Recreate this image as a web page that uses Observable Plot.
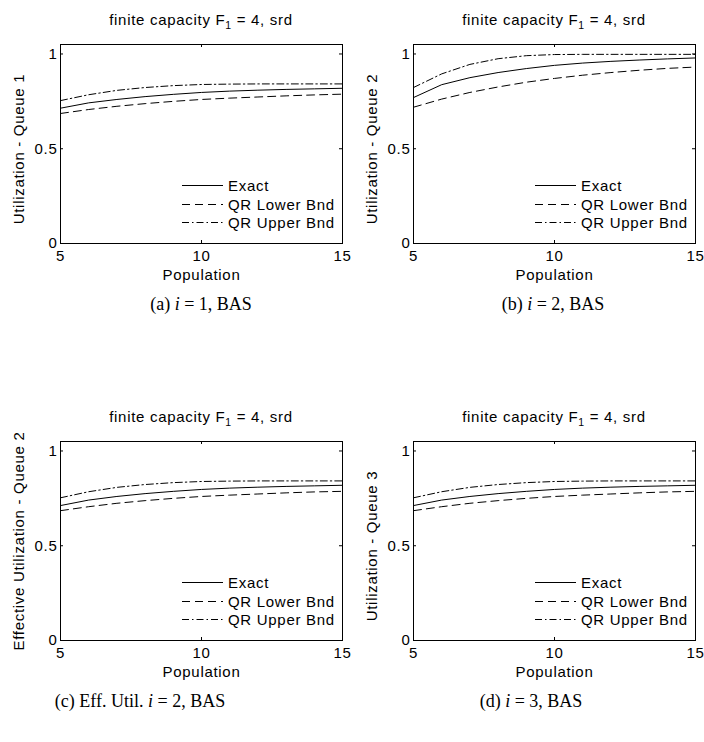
<!DOCTYPE html>
<html><head><meta charset="utf-8">
<script src="https://cdn.jsdelivr.net/npm/d3@7"></script>
<script src="https://cdn.jsdelivr.net/npm/@observablehq/plot@0.6"></script>
<style>
body{margin:0;background:#fff;}
#root{position:relative;width:704px;height:742px;background:#fff;font-family:"Liberation Sans",Arial,sans-serif;color:#000;overflow:hidden;}
.panel{position:absolute;width:352px;height:340px;}
.panel > svg{position:absolute;left:0;top:0;}
.panel svg text{letter-spacing:0.7px;}
.ptitle{position:absolute;left:60px;width:282px;text-align:center;font-size:15px;line-height:17px;white-space:nowrap;letter-spacing:0.7px;}
.ptitle sub{font-size:10.5px;line-height:0;vertical-align:-4px;}
.lrow{position:absolute;left:182px;height:18px;display:flex;align-items:center;font-size:15px;white-space:nowrap;letter-spacing:0.7px;}
.lrow svg{position:static;margin-right:5px;}
.caption{position:absolute;font-family:"Liberation Serif",serif;font-size:18px;line-height:20px;white-space:nowrap;text-align:center;width:300px;}
</style></head>
<body><div id="root"></div>
<script>
// ---- data ----
const population = [5, 6, 7, 8, 9, 10, 11, 12, 13, 14, 15];
const xTicks = [5, 10, 15];
const yTicks = [0, 0.5, 1];
const seriesNames = ["Exact", "QR Lower Bnd", "QR Upper Bnd"];
const panelTitle = "finite capacity F<sub>1</sub> = 4, srd";
const xLabel = "Population";

// (a) Queue 1
const exactQ1 = [0.714, 0.742, 0.760, 0.775, 0.787, 0.797, 0.804, 0.809, 0.813, 0.816, 0.819];
const lowerQ1 = [0.686, 0.707, 0.724, 0.738, 0.750, 0.760, 0.767, 0.773, 0.779, 0.784, 0.788];
const upperQ1 = [0.754, 0.785, 0.808, 0.823, 0.833, 0.839, 0.841, 0.842, 0.842, 0.842, 0.842];
// (b) Queue 2
const exactQ2 = [0.770, 0.838, 0.875, 0.902, 0.923, 0.940, 0.952, 0.961, 0.968, 0.974, 0.979];
const lowerQ2 = [0.719, 0.762, 0.797, 0.826, 0.851, 0.871, 0.888, 0.902, 0.914, 0.924, 0.931];
const upperQ2 = [0.823, 0.895, 0.945, 0.975, 0.991, 0.997, 0.998, 0.998, 0.998, 0.998, 0.998];
// (c) Effective utilization Queue 2
const exactEffQ2 = [0.712, 0.741, 0.760, 0.775, 0.787, 0.797, 0.804, 0.809, 0.813, 0.816, 0.819];
const lowerEffQ2 = [0.685, 0.706, 0.724, 0.738, 0.750, 0.760, 0.767, 0.773, 0.779, 0.784, 0.787];
const upperEffQ2 = [0.753, 0.785, 0.808, 0.823, 0.833, 0.839, 0.841, 0.842, 0.842, 0.842, 0.842];
// (d) Queue 3
const exactQ3 = [0.712, 0.741, 0.760, 0.775, 0.787, 0.797, 0.804, 0.809, 0.813, 0.816, 0.819];
const lowerQ3 = [0.685, 0.706, 0.724, 0.738, 0.750, 0.760, 0.767, 0.773, 0.779, 0.784, 0.787];
const upperQ3 = [0.753, 0.785, 0.808, 0.823, 0.833, 0.839, 0.841, 0.842, 0.842, 0.842, 0.842];

const panels = [
  {left: 0, top: 0, ylabel: "Utilization - Queue 1", labelDy: 5, capCenter: 201, caption: "(a) <i>i</i> = 1, BAS", series: [exactQ1, lowerQ1, upperQ1]},
  {left: 353, top: 0, ylabel: "Utilization - Queue 2", labelDy: 5, capCenter: 200, caption: "(b) <i>i</i> = 2, BAS", series: [exactQ2, lowerQ2, upperQ2]},
  {left: 0, top: 397, ylabel: "Effective Utilization - Queue 2", labelDy: 0, capCenter: 140, caption: "(c) Eff. Util. <i>i</i> = 2, BAS", series: [exactEffQ2, lowerEffQ2, upperEffQ2]},
  {left: 353, top: 397, ylabel: "Utilization - Queue 3", labelDy: 5, capCenter: 178, caption: "(d) <i>i</i> = 3, BAS", series: [exactQ3, lowerQ3, upperQ3]}
];

// ---- styles ----
const dashes = [null, "8,5", "7,3,1.5,3"];
const W = 352, H = 290, ML = 60, MR = 10, MT = 44, MB = 47;
const FW = W - ML - MR, FH = H - MT - MB;
const TICK = 3;

const root = document.getElementById("root");

for (const p of panels) {
  const div = document.createElement("div");
  div.className = "panel";
  div.style.left = p.left + "px";
  div.style.top = p.top + "px";

  const lineMarks = p.series.map((arr, k) =>
    Plot.line(population.map((n, i) => ({N: n, v: arr[i]})), {
      x: "N", y: "v", stroke: "black", strokeWidth: 1,
      strokeDasharray: dashes[k] ?? undefined
    })
  );

  const chart = Plot.plot({
    width: W, height: H,
    marginLeft: ML, marginRight: MR, marginTop: MT, marginBottom: MB,
    x: {domain: [5, 15]},
    y: {domain: [0, 1.05]},
    style: {fontFamily: "Liberation Sans, Arial, sans-serif", fontSize: "15px", color: "black", background: "transparent", overflow: "visible"},
    marks: [
      ...lineMarks,
      Plot.frame({stroke: "black"}),
      Plot.ruleX(xTicks, {x: d => d, insetTop: FH - TICK, stroke: "black"}),
      Plot.ruleX(xTicks, {x: d => d, insetBottom: FH - TICK, stroke: "black"}),
      Plot.ruleY(yTicks, {y: d => d, insetRight: FW - TICK, stroke: "black"}),
      Plot.ruleY(yTicks, {y: d => d, insetLeft: FW - TICK, stroke: "black"}),
      Plot.axisX(xTicks, {anchor: "bottom", tickSize: 0, tickPadding: 7, label: null, tickFormat: d => String(d)}),
      Plot.axisY(yTicks, {anchor: "left", tickSize: 0, tickPadding: 3, label: null, tickFormat: d => String(d)}),
      Plot.text([xLabel], {text: d => d, frameAnchor: "bottom", lineAnchor: "bottom", dy: 36, fill: "black"}),
      Plot.text([p.ylabel], {text: d => d, frameAnchor: "left", rotate: -90, textAnchor: "middle", lineAnchor: "middle", dx: -41, dy: p.labelDy, fill: "black"})
    ]
  });
  div.appendChild(chart);

  const title = document.createElement("div");
  title.className = "ptitle";
  title.style.top = "11px";
  title.innerHTML = panelTitle;
  div.appendChild(title);

  const rowsY = [185, 204, 222];
  seriesNames.forEach((name, k) => {
    const row = document.createElement("div");
    row.className = "lrow";
    row.style.top = (rowsY[k] - 9) + "px";
    const ns = "http://www.w3.org/2000/svg";
    const s = document.createElementNS(ns, "svg");
    s.setAttribute("width", "41"); s.setAttribute("height", "18");
    const ln = document.createElementNS(ns, "line");
    ln.setAttribute("x1", "0"); ln.setAttribute("x2", "41");
    ln.setAttribute("y1", "9.5"); ln.setAttribute("y2", "9.5");
    ln.setAttribute("stroke", "black"); ln.setAttribute("stroke-width", "1");
    if (dashes[k]) ln.setAttribute("stroke-dasharray", dashes[k]);
    s.appendChild(ln);
    row.appendChild(s);
    const t = document.createElement("span");
    t.textContent = name;
    row.appendChild(t);
    div.appendChild(row);
  });

  const cap = document.createElement("div");
  cap.className = "caption";
  cap.style.top = "294px";
  cap.style.left = (p.capCenter - 150) + "px";
  cap.innerHTML = p.caption;
  div.appendChild(cap);

  root.appendChild(div);
}
</script>
</body></html>
